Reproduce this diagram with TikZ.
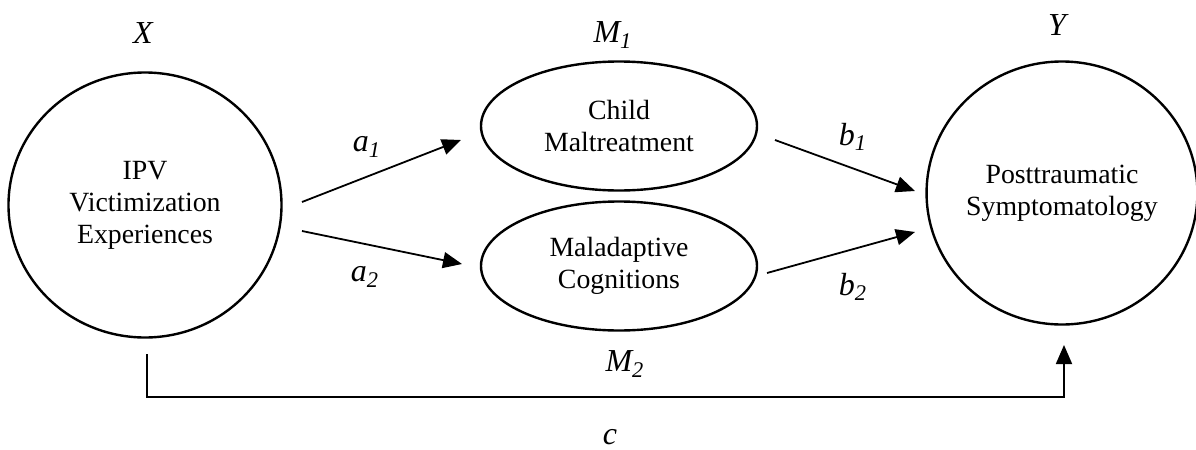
\documentclass[tikz,border=0pt]{standalone}
\usepackage{fontspec}
\setmainfont{Liberation Serif}
\usetikzlibrary{shapes.geometric,arrows.meta}

\begin{document}
\begin{tikzpicture}[x=0.5pt,y=-0.5pt,
          every node/.style={font=\fontsize{13.9}{16}\selectfont},
          latent/.style={ellipse,draw,line width=1.2pt,align=center,inner sep=0pt},
          lbl/.style={font=\fontsize{16}{18}\selectfont\itshape,inner sep=1pt},
          link/.style={line width=0.9pt,-{Triangle[length=9.5pt,width=8pt]}},
        ]
        \useasboundingbox (0,0) rectangle (1196,450);
        \node[latent,minimum width=136.5pt,minimum height=132.5pt] (X) at (145,205) {IPV\\Victimization\\Experiences};
        \node[latent,minimum width=138pt,minimum height=64.5pt] (M1) at (619,126) {Child\\Maltreatment};
        \node[latent,minimum width=138pt,minimum height=64.5pt] (M2) at (619,266) {Maladaptive\\Cognitions};
        \node[latent,minimum width=134.5pt,minimum height=131.5pt] (Y) at (1062,193) {Posttraumatic\\Symptomatology};
        \node[lbl] (lX) at (143,33) {X};
        \node[lbl] (lM1) at (613,35) {M\textsubscript{1}};
        \node[lbl] (lM2) at (625,364) {M\textsubscript{2}};
        \node[lbl] (lY) at (1057,25) {Y};
        \node[lbl] (la1) at (367,147) {a\textsubscript{1}};
        \node[lbl] (la2) at (365,277) {a\textsubscript{2}};
        \node[lbl] (lb1) at (853,137) {b\textsubscript{1}};
        \node[lbl] (lb2) at (853,287) {b\textsubscript{2}};
        \node[lbl] (lc) at (610,437) {c};
        \coordinate (a1s) at (302,202);
        \coordinate (a1e) at (461,140);
        \coordinate (a2s) at (302,231);
        \coordinate (a2e) at (462,264);
        \coordinate (b1s) at (775,140);
        \coordinate (b1e) at (915,191);
        \coordinate (b2s) at (767,273);
        \coordinate (b2e) at (915,232);
        \coordinate (cs) at (147,354);
        \coordinate (cm) at (600,397);
        \coordinate (ce) at (1064,345);
        \draw[link] (a1s) -- (a1e);
        \draw[link] (a2s) -- (a2e);
        \draw[link] (b1s) -- (b1e);
        \draw[link] (b2s) -- (b2e);
        \draw[link] (cs) |- (cm) -| (ce);
      \end{tikzpicture}
\end{document}
